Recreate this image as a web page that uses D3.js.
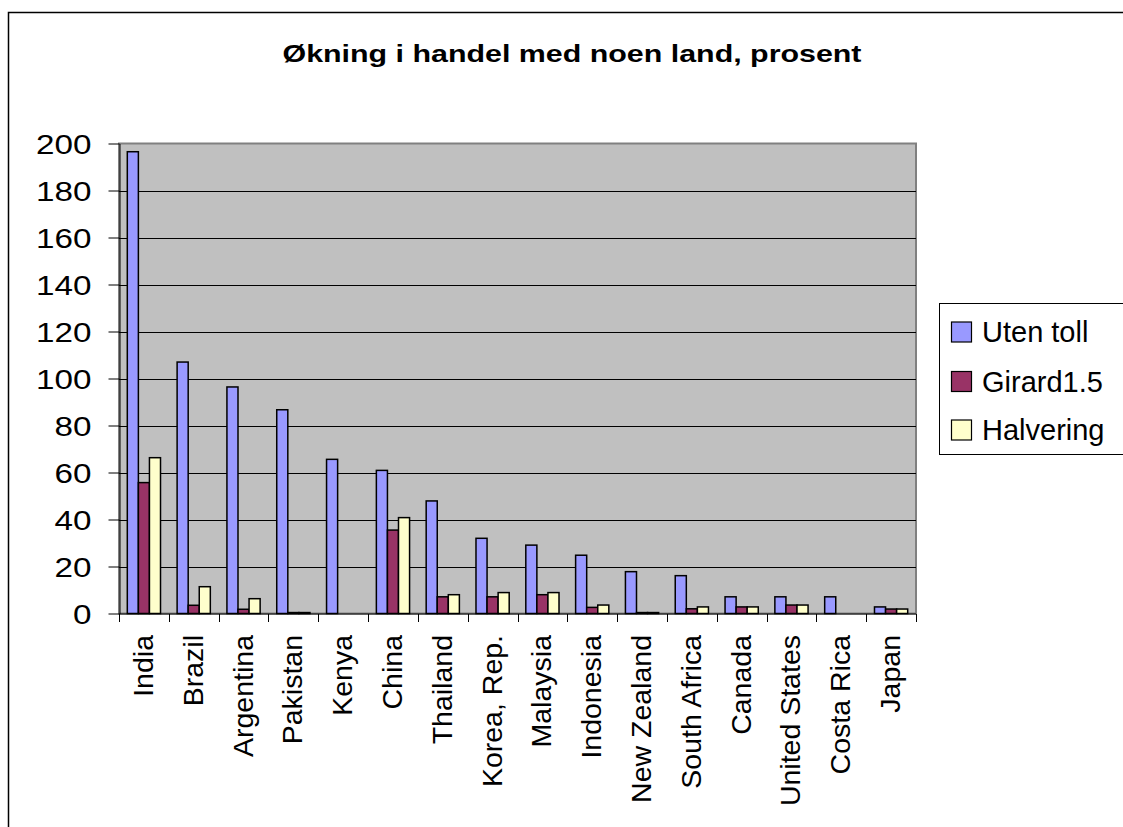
<!DOCTYPE html>
<html>
<head>
<meta charset="utf-8">
<script src="https://cdn.jsdelivr.net/npm/d3@7"></script>
<style>
  html, body { margin: 0; padding: 0; background: #fff; overflow: hidden; }
  svg { display: block; }
  text { font-family: "Liberation Sans", Arial, sans-serif; fill: #000; }
</style>
</head>
<body>
<svg id="chart" width="1123" height="827"></svg>
<script>
const title = "Økning i handel med noen land, prosent";
const categories = ["India", "Brazil", "Argentina", "Pakistan", "Kenya", "China", "Thailand", "Korea, Rep.", "Malaysia", "Indonesia", "New Zealand", "South Africa", "Canada", "United States", "Costa Rica", "Japan"];
const seriesNames = ["Uten toll", "Girard1.5", "Halvering"];
const utenToll  = [196.5, 107, 96.4, 86.7, 65.6, 60.9, 47.9, 32, 29.1, 24.8, 17.8, 16.1, 7.1, 7.1, 7.1, 2.8];
const girard15  = [55.7, 3.5, 1.8, 0.4, 0, 35.5, 7.1, 7.1, 8.0, 2.6, 0.4, 2.0, 2.8, 3.6, 0, 1.9];
const halvering = [66.3, 11.4, 6.3, 0.4, 0, 40.8, 8.0, 8.9, 8.9, 3.6, 0.4, 2.8, 2.8, 3.6, 0, 1.9];
const yTicks = [0, 20, 40, 60, 80, 100, 120, 140, 160, 180, 200];
const colors = ["#9999FF", "#993366", "#FFFFCC"];

(function () {
const seriesValues = [utenToll, girard15, halvering];
const svg = d3.select("#chart");

// outer chart border
svg.append("rect").attr("x", 8.5).attr("y", 12.5).attr("width", 1140).attr("height", 840)
  .attr("fill", "#fff").attr("stroke", "#000").attr("stroke-width", 1.5);

const pLeft = 119, pRight = 916, pTop = 143.5, pBottom = 613.5;

const x = d3.scaleBand().domain(categories).range([pLeft, pRight]).padding(0);
const bw = x.bandwidth() / 4.5;
const xs = d3.scaleBand().domain(seriesNames).range([bw * 0.75, bw * 3.75]).padding(0);
const y = d3.scaleLinear().domain([0, 200]).range([pBottom, pTop]);

// plot area
svg.append("rect").attr("x", pLeft).attr("y", pTop).attr("width", pRight - pLeft).attr("height", pBottom - pTop)
  .attr("fill", "#C0C0C0").attr("stroke", "#808080").attr("stroke-width", 2);

// gridlines
svg.append("g").selectAll("line").data(yTicks.filter(t => t > 0 && t < 200)).join("line")
  .attr("x1", pLeft).attr("x2", pRight)
  .attr("y1", d => Math.round(y(d)) + 0.5).attr("y2", d => Math.round(y(d)) + 0.5)
  .attr("stroke", "#000").attr("stroke-width", 1);

// bars
const barData = [];
categories.forEach((c, i) => seriesNames.forEach((s, j) => {
  barData.push({ c, s, j, v: seriesValues[j][i] });
}));
svg.append("g").selectAll("rect").data(barData.filter(d => d.v > 0)).join("rect")
  .attr("x", d => x(d.c) + xs(d.s))
  .attr("width", xs.bandwidth())
  .attr("y", d => y(d.v))
  .attr("height", d => y(0) - y(d.v))
  .attr("fill", d => colors[d.j])
  .attr("stroke", "#000").attr("stroke-width", 1.5);

// y axis
const yAxis = svg.append("g").attr("transform", `translate(${pLeft + 0.5},0)`)
  .call(d3.axisLeft(y).tickValues(yTicks).tickSize(11).tickSizeOuter(0).tickPadding(0));
yAxis.select(".domain").attr("stroke", "#000");
yAxis.selectAll(".tick line").attr("stroke", "#000");
yAxis.selectAll(".tick text")
  .attr("font-size", 27)
  .attr("font-family", "Liberation Sans, Arial, sans-serif")
  .attr("x", -28 / 1.23)
  .attr("dy", "0.36em")
  .attr("transform", "scale(1.23,1)");

// x axis
const xAxis = svg.append("g").attr("transform", `translate(0,${pBottom + 0.5})`);
xAxis.append("line").attr("x1", pLeft).attr("x2", pRight).attr("stroke", "#000");
xAxis.selectAll("line.tk").data(d3.range(categories.length + 1)).join("line").attr("class", "tk")
  .attr("x1", i => Math.round(pLeft + i * x.bandwidth()) + 0.5)
  .attr("x2", i => Math.round(pLeft + i * x.bandwidth()) + 0.5)
  .attr("y1", 0).attr("y2", 8).attr("stroke", "#000");
svg.append("g").selectAll("text").data(categories).join("text")
  .attr("transform", d => `translate(${x(d) + x.bandwidth() / 2 - 1},635) rotate(-90)`)
  .attr("text-anchor", "end")
  .attr("dy", "0.35em")
  .attr("font-size", 28.5)
  .text(d => d);

// title
svg.append("text").attr("x", 572).attr("y", 62).attr("text-anchor", "middle")
  .attr("font-size", 23).attr("font-weight", "bold")
  .attr("textLength", 579).attr("lengthAdjust", "spacingAndGlyphs")
  .text(title);

// legend
const lg = svg.append("g");
lg.append("rect").attr("x", 939.5).attr("y", 303.5).attr("width", 200).attr("height", 151)
  .attr("fill", "#fff").attr("stroke", "#000").attr("stroke-width", 1);
const rowY = [332, 381.5, 430];
seriesNames.forEach((s, j) => {
  lg.append("rect").attr("x", 951.5).attr("y", rowY[j] - 10).attr("width", 20).attr("height", 20)
    .attr("fill", colors[j]).attr("stroke", "#000").attr("stroke-width", 1.2);
  lg.append("text").attr("x", 982).attr("y", rowY[j]).attr("dy", "0.36em")
    .attr("font-size", 29).text(s);
});
})();
</script>
</body>
</html>
